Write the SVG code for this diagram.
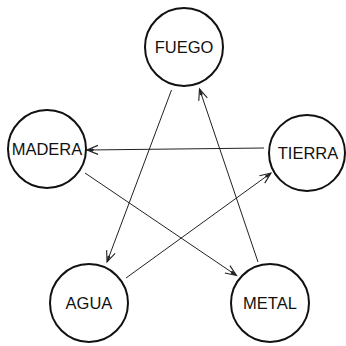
<svg xmlns="http://www.w3.org/2000/svg" width="346" height="346" viewBox="0 0 346 346">
<style>
.n{fill:#fff;stroke:#111;stroke-width:2}
.t{font-family:"Liberation Sans",Arial,sans-serif;font-size:16.5px;fill:#111;text-anchor:middle}
.c{stroke:#222;stroke-width:1;fill:none;marker-end:url(#a)}
</style>
<defs>
<marker id="a" markerUnits="userSpaceOnUse" markerWidth="14" markerHeight="12" viewBox="0 0 14 12" refX="12" refY="6" orient="auto">
<path d="M1,1.5 L12,6 L1,10.5 M5,6 L12,6" fill="none" stroke="#222" stroke-width="1.1"/>
<path d="M6,4.3 L12,6 L6,7.7 Z" fill="#222"/>
</marker>
</defs>
<rect width="346" height="346" fill="#fff"/>
<g id="connectors">
<line class="c" x1="171.5" y1="90" x2="107" y2="262"/>
<line class="c" x1="264" y1="148" x2="87" y2="150"/>
<line class="c" x1="85" y1="173" x2="236.5" y2="275.5"/>
<line class="c" x1="126" y1="278" x2="271" y2="173"/>
<line class="c" x1="258" y1="262" x2="199.5" y2="89"/>
</g>
<g id="fuego"><circle class="n" cx="184" cy="47" r="39"/><text class="t" x="184" y="53">FUEGO</text></g>
<g id="madera"><circle class="n" cx="47" cy="149" r="39"/><text class="t" x="47" y="155">MADERA</text></g>
<g id="tierra"><circle class="n" cx="307" cy="153" r="38"/><text class="t" x="308" y="159">TIERRA</text></g>
<g id="agua"><circle class="n" cx="89" cy="303" r="39"/><text class="t" x="89" y="309">AGUA</text></g>
<g id="metal"><circle class="n" cx="270" cy="303" r="39"/><text class="t" x="270" y="309">METAL</text></g>
</svg>
